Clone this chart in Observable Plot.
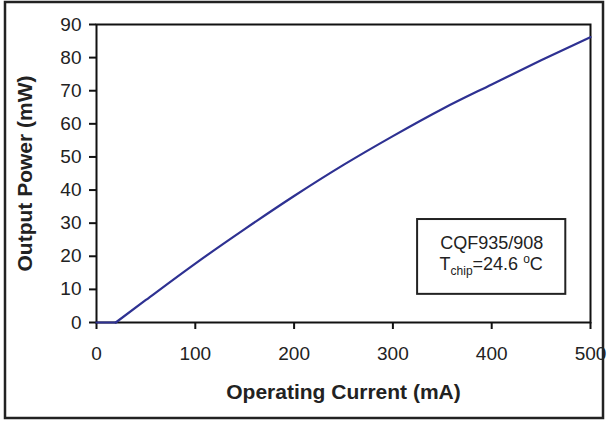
<!DOCTYPE html>
<html>
<head>
<meta charset="utf-8">
<script src="https://cdn.jsdelivr.net/npm/d3@7"></script>
<script src="https://cdn.jsdelivr.net/npm/@observablehq/plot@0.6"></script>
<style>
  html, body { margin: 0; padding: 0; background: #fff; }
  #chart { width: 609px; height: 421px; }
</style>
</head>
<body>
<div id="chart"></div>
<script>
// Data
const currents = [0, 19.5, 50, 100, 150, 200, 250, 300, 350, 400, 450, 500];
const powers   = [0, 0, 6.8, 17.8, 28.2, 38.2, 47.6, 56.3, 64.5, 71.9, 79.2, 86.2];
const thresholdCurrent = 19.5;
const xTicks = [0, 100, 200, 300, 400, 500];
const yTicks = [0, 10, 20, 30, 40, 50, 60, 70, 80, 90];
const xTitle = "Operating Current (mA)";
const yTitle = "Output Power (mW)";
const deviceLabel = "CQF935/908";
const tempLabel = {base: "T", sub: "chip", value: "=24.6 ", sup: "o", unit: "C"};
// annotation box extent (data units)
const boxX = [325, 475];
const boxY = [8.5, 31.1];
const labelX = 400;
const labelY = [23.9, 15.6];

const data = currents.map((c, i) => ({current: c, power: powers[i]}));
const flat = data.filter(d => d.current <= thresholdCurrent);
const lasing = data.filter(d => d.current >= thresholdCurrent);
const FONT = "'Liberation Sans', Arial, Helvetica, sans-serif";
const LINE = "#2e3192";

const chart = Plot.plot({
  width: 609,
  height: 421,
  marginLeft: 96,
  marginRight: 19,
  marginTop: 24,
  marginBottom: 99,
  style: {fontFamily: FONT, fontSize: "19px", background: "#fff", color: "#111"},
  x: {domain: [0, 500]},
  y: {domain: [0, 90]},
  marks: [
    Plot.rect([{x1: boxX[0], x2: boxX[1], y1: boxY[0], y2: boxY[1]}],
      {x1: "x1", x2: "x2", y1: "y1", y2: "y2", fill: "none", stroke: "#222", strokeWidth: 2}),
    Plot.text([deviceLabel], {x: labelX, y: labelY[0], text: d => d, fontSize: 18, fill: "#222"}),
    Plot.frame({stroke: "#111", strokeWidth: 2}),
    Plot.axisX({ticks: xTicks, tickSize: 7, tickPadding: 17, strokeWidth: 2, label: null, fill: "#222", fontSize: 19}),
    Plot.axisY({ticks: yTicks, tickSize: 7, tickPadding: 8, strokeWidth: 2, label: null, fill: "#222", fontSize: 19}),
    Plot.text([xTitle], {frameAnchor: "bottom", text: d => d, dy: 76, fontWeight: "bold", fontSize: 21, fill: "#222"}),
    Plot.text([yTitle], {frameAnchor: "left", textAnchor: "middle", text: d => d, dx: -71, rotate: -90, fontWeight: "bold", fontSize: 21, fill: "#222"}),
    Plot.line(flat, {x: "current", y: "power", stroke: LINE, strokeWidth: 2.2}),
    Plot.line(lasing, {x: "current", y: "power", stroke: LINE, strokeWidth: 2.2, curve: "monotone-x"})
  ]
});

document.getElementById("chart").appendChild(chart);

// second annotation line with subscript / superscript
const sx = chart.scale("x"), sy = chart.scale("y");
const svg = d3.select(chart);
const t = svg.append("text")
  .attr("x", sx.apply(labelX))
  .attr("y", sy.apply(labelY[1]))
  .attr("text-anchor", "middle")
  .attr("font-family", FONT)
  .attr("font-size", 18)
  .attr("fill", "#222");
t.append("tspan").text(tempLabel.base);
t.append("tspan").attr("font-size", 12).attr("dy", 5).text(tempLabel.sub);
t.append("tspan").attr("dy", -5).text(tempLabel.value);
t.append("tspan").attr("font-size", 12).attr("dy", -7).text(tempLabel.sup);
t.append("tspan").attr("dy", 7).text(tempLabel.unit);

// outer border of the figure
svg.append("rect")
  .attr("x", 5).attr("y", 2)
  .attr("width", 598).attr("height", 416)
  .attr("fill", "none").attr("stroke", "#222").attr("stroke-width", 2.5);
</script>
</body>
</html>
